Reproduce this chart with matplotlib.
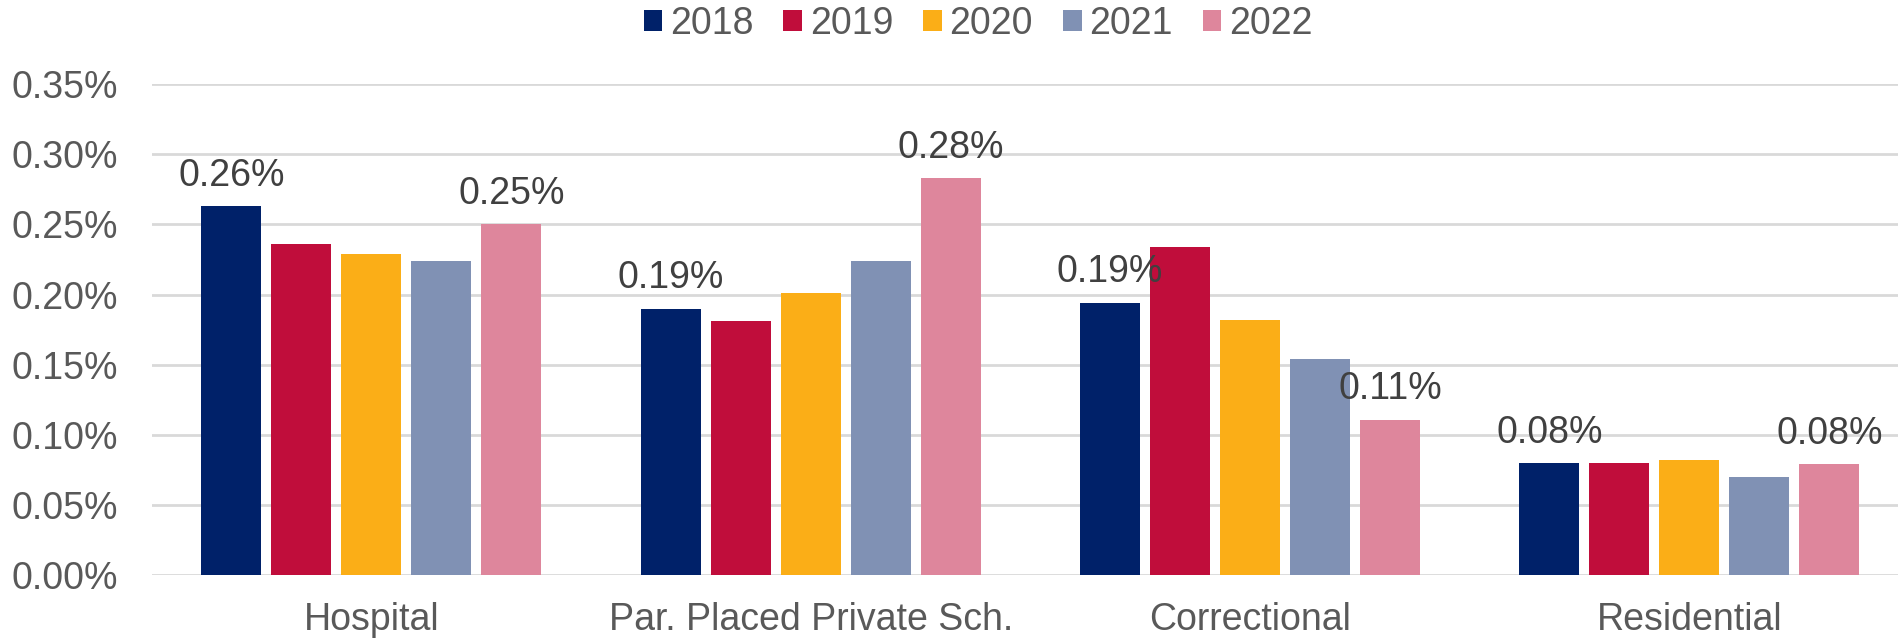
import numpy as np
import matplotlib.pyplot as plt

# Values (percent)
categories = ["Hospital", "Par. Placed Private Sch.", "Correctional", "Residential"]
years = ["2018", "2019", "2020", "2021", "2022"]
vals_2018 = [0.263, 0.190, 0.194, 0.080]
vals_2019 = [0.236, 0.181, 0.234, 0.080]
vals_2020 = [0.229, 0.201, 0.182, 0.082]
vals_2021 = [0.224, 0.224, 0.154, 0.070]
vals_2022 = [0.250, 0.283, 0.111, 0.079]
y_ticks = [0.00, 0.05, 0.10, 0.15, 0.20, 0.25, 0.30, 0.35]

series = [vals_2018, vals_2019, vals_2020, vals_2021, vals_2022]
colors = ["#002169", "#C00D3B", "#FBAE17", "#8091B4", "#DE869C"]
labelled = {"2018", "2022"}

plt.rcParams["font.family"] = ["Liberation Sans", "DejaVu Sans"]

fig = plt.figure(figsize=(18.98, 6.39), dpi=100)
ax = fig.add_axes([151.7 / 1898, 63.6 / 639, (1898 - 151.7) / 1898, 491.4 / 639])

x = np.arange(len(categories))
step = 0.1593
width = 0.1366

for i, (year, vals) in enumerate(zip(years, series)):
    pos = x + (i - 2) * step
    bars = ax.bar(pos, vals, width=width, color=colors[i], label=year, zorder=3)
    if year in labelled:
        for b, v in zip(bars, vals):
            ax.annotate(f"{v:.2f}%", (b.get_x() + b.get_width() / 2, v),
                        xytext=(0, 22), textcoords="offset points",
                        ha="center", va="center", fontsize=27, color="#404040",
                        zorder=4)

# Axis formatting
ax.set_xlim(-0.5, 3.475)
ax.set_ylim(0, 0.35)
ax.set_yticks(y_ticks)
ax.set_yticklabels([f"{t:.2f}%" for t in y_ticks])
ax.set_xticks(x)
ax.set_xticklabels(categories)
ax.tick_params(axis="y", length=0, pad=24, labelsize=27, labelcolor="#595959")
ax.tick_params(axis="x", length=0, pad=19, labelsize=27, labelcolor="#595959")
ax.grid(axis="y", color="#D9D9D9", linewidth=2, zorder=0)
for s in ax.spines.values():
    s.set_visible(False)

fig.legend(loc="center", bbox_to_anchor=(978 / 1898, 1 - 24 / 639), ncol=5,
           frameon=False, fontsize=27, labelcolor="#595959",
           handlelength=0.5, handleheight=0.5, handletextpad=0.2,
           columnspacing=0.8)

fig.savefig("out.png", dpi=100)
